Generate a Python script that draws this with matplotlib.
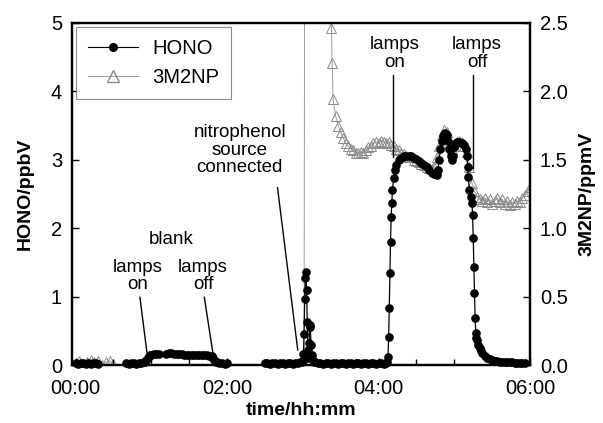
import numpy as np
import matplotlib
matplotlib.use("Agg")
import matplotlib.pyplot as plt
from matplotlib.ticker import FuncFormatter, MultipleLocator
from matplotlib.lines import Line2D

plt.rcParams['font.family'] = ['Liberation Sans', 'DejaVu Sans']

nan = float('nan')

# HONO (ppbV) vs time in minutes, segments separated by NaN
hono_t = [0, 2, 4, 6, 8, 10, 12, 14, 16, 18, nan,
          40, 42, 44, 46, 48, 50, 52, 54, 55, 56, 57, 58, 59, 60, 62, 64, 66, nan,
          72, 74, 76, 78, 80, 82, 84, 86, 88, 90, 92, 94, 96, 98, 100, 102, 104, 106, 108,
          109, 110, 111, 112, 114, 116, 118, 120, nan,
          150, 152, 154, 156, 158, 160, 162, 164, 166, 168, 170, 172, 174, 176, 178,
          179, 180, 180.5, 181, 181.5, 182, 182.5, 183, 183.5, 184, 184.5, 185, 185.5,
          186, 186.5, 187, 188, 189, 190,
          192, 194, 196, 198, 200, 202, 204, 206, 208, 210, 212, 214, 216, 218, 220,
          222, 224, 226, 228, 230, 232, 234, 236, 238, 240, 242, 244, 246,
          247, 247.5, 248, 248.5, 249, 249.5, 250, 250.5, 251, 252, 253, 254, 256, 258,
          260, 262, 264, 266, 268, 270, 272, 274, 276, 278, 280, 282, 284, 286, 287, 288,
          289, 290, 291, 292, 293, 294, 295, 296, 297, 298, 299, 300, 301, 302, 304, 306,
          308, 309, 310, 310.5, 311, 312, 313, 314, 314.5, 315, 315.5, 316, 316.5, 317,
          317.5, 318, 319, 320, 321, 322, 324, 326, 328, 330, 332, 334, 336,
          338, 340, 342, 344, 346, 348, 350, 352, 354, 356]
hono_v = [0.03, 0.02, 0.03, 0.03, 0.02, 0.03, 0.02, 0.03, 0.03, 0.02, nan,
          0.03, 0.02, 0.03, 0.03, 0.02, 0.03, 0.03, 0.04, 0.05, 0.08, 0.11, 0.13, 0.14,
          0.15, 0.16, 0.16, 0.16, nan,
          0.16, 0.17, 0.17, 0.16, 0.16, 0.16, 0.16, 0.15, 0.15, 0.15, 0.15, 0.15, 0.14,
          0.14, 0.14, 0.14, 0.14, 0.13, 0.13,
          0.11, 0.08, 0.05, 0.04, 0.03, 0.03, 0.02, 0.03, nan,
          0.03, 0.03, 0.02, 0.03, 0.03, 0.02, 0.03, 0.03, 0.02, 0.03, 0.03, 0.02, 0.03,
          0.03, 0.04,
          0.04, 0.06, 0.16, 0.45, 0.96, 1.27, 1.36, 1.10, 0.63, 0.22, 0.10, 0.32, 0.58,
          0.55, 0.30, 0.15, 0.07, 0.05, 0.04,
          0.03, 0.03, 0.02, 0.03, 0.03, 0.02, 0.03, 0.03, 0.02, 0.03, 0.03, 0.02, 0.03,
          0.03, 0.02, 0.03, 0.03, 0.02, 0.03, 0.03, 0.02, 0.03, 0.03, 0.02, 0.03, 0.03,
          0.02, 0.03,
          0.05, 0.12, 0.41, 0.83, 1.34, 1.80, 2.16, 2.37, 2.56, 2.73, 2.85, 2.92, 3.00,
          3.03, 3.05, 3.06, 3.06, 3.05, 3.03, 3.01, 2.98, 2.95, 2.92, 2.89, 2.85, 2.81,
          2.79, 2.78, 2.85, 3.00, 3.15, 3.27, 3.34, 3.38, 3.39, 3.36, 3.28, 3.16, 3.05,
          3.00, 3.06, 3.18, 3.24, 3.26, 3.26, 3.25, 3.22, 3.15, 3.05, 2.90, 2.75, 2.56,
          2.45, 2.37, 2.19, 1.86, 1.43, 1.05, 0.69, 0.47, 0.40, 0.37, 0.30, 0.25, 0.21,
          0.17, 0.13, 0.11, 0.09, 0.07, 0.06, 0.06, 0.05,
          0.05, 0.04, 0.04, 0.04, 0.04, 0.03, 0.03, 0.03, 0.03, 0.03]

# 3M2NP (ppmV) vs time in minutes; values above 2.5 run off the top of the plot
np3_t = [0, 3, 6, 9, 12, 15, 18, 21, 24, 27, 30, nan,
         181, 181.8, 202, 202.7, 203.2, 204, 206, 208, 210, 212, 214, 216, 218, 220,
         222, 224, 226, 228, 230, 232, 234, 236, 238, 240, 242, 244, 246, 248, 250,
         252, 254, 256, 258, 260, 262, 264, 266, 268, 270, 272, 274, 276, 278, 280,
         282, 284, 286, 288, 290, 292, 294, 296, 298, 300, 302, 304, 306, 308, 310,
         312, 314, 316, 318, 320, 322, 324, 326, 328, 330, 332, 334, 336, 338, 340,
         342, 344, 346, 348, 350, 352, 354, 356, 358, 360]
np3_v = [0.01, 0.03, 0.00, 0.02, 0.04, 0.02, 0.03, 0.00, 0.02, 0.03, 0.01, nan,
         0.00, 5.00, 2.70, 2.46, 2.21, 1.94, 1.82, 1.75, 1.70, 1.66, 1.62, 1.60, 1.58,
         1.57, 1.55, 1.55, 1.56, 1.55, 1.57, 1.59, 1.60, 1.62, 1.63, 1.62, 1.64, 1.63,
         1.62, 1.63, 1.61, 1.60, 1.58, 1.57, 1.55, 1.54, 1.53, 1.52, 1.52, 1.50, 1.49,
         1.48, 1.47, 1.46, 1.45, 1.44, 1.43, 1.45, 1.52, 1.60, 1.68, 1.72, 1.70, 1.62,
         1.58, 1.60, 1.63, 1.64, 1.63, 1.60, 1.56, 1.45, 1.33, 1.27, 1.23, 1.21, 1.20,
         1.22, 1.19, 1.21, 1.18, 1.20, 1.22, 1.19, 1.21, 1.18, 1.20, 1.17, 1.19, 1.18,
         1.20, 1.19, 1.22, 1.24, 1.27, 1.30]

x_ticks = [0, 120, 240, 360]
hono_ticks = [0, 1, 2, 3, 4, 5]
np3_ticks = [0.0, 0.5, 1.0, 1.5, 2.0, 2.5]

fig = plt.figure(figsize=(6.03, 4.23), dpi=100)
ax = fig.add_axes([0.119, 0.137, 0.760, 0.809])
ax2 = ax.twinx()
ax.set_zorder(ax2.get_zorder() + 1)
ax.patch.set_visible(False)

# 3M2NP: grey line, open triangles (no marker at the start of the jump)
ax2.plot(np3_t, np3_v, color='#9a9a9a', lw=0.7, zorder=2)
mask = [i for i in range(len(np3_t)) if np3_t[i] != 181]
ax2.plot([np3_t[i] for i in mask], [np3_v[i] for i in mask], ls='none',
         marker='^', ms=7.5, mfc='none', mec='#8a8a8a', mew=0.7, zorder=3)

ax.plot(hono_t, hono_v, color='black', lw=0.9, marker='o', ms=5.2,
        mfc='black', mec='black', clip_on=False, zorder=4)

ax.set_xlim(-3, 360)
ax.set_ylim(0, 5)
ax2.set_ylim(0, 2.5)

ax.set_xticks(x_ticks)
ax.xaxis.set_minor_locator(MultipleLocator(30))
ax.xaxis.set_major_formatter(FuncFormatter(lambda v, p: "%02d:%02d" % (int(v) // 60, int(v) % 60)))
ax.set_yticks(hono_ticks)
ax2.set_yticks(np3_ticks)
ax2.yaxis.set_major_formatter(FuncFormatter(lambda v, p: "%.1f" % v))

for a in (ax, ax2):
    for s in a.spines.values():
        s.set_linewidth(1.6)
        s.set_color('black')
ax.tick_params(axis='x', which='major', direction='in', length=5, width=1, pad=10, labelsize=14.5)
ax.tick_params(axis='x', which='minor', direction='in', length=4, width=1)
ax.tick_params(axis='y', direction='in', length=5, width=1, pad=7, labelsize=14.5)
ax2.tick_params(axis='y', direction='in', length=5, width=1, pad=7, labelsize=14.5)

ax.set_xlabel('time/hh:mm', fontsize=14, fontweight='bold', labelpad=3)
ax.set_ylabel('HONO/ppbV', fontsize=14, fontweight='bold', labelpad=12)
ax2.set_ylabel('3M2NP/ppmV', fontsize=14, fontweight='bold', labelpad=8)

# annotations (text centre, line start, line end) in HONO data coordinates
tfs = 13.5
ax.text(76, 1.83, 'blank', ha='center', va='center', fontsize=tfs)
notes = [
    ('lamps\non', (49, 1.30), (51, 0.99), (56.5, 0.19)),
    ('lamps\noff', (101, 1.30), (102, 0.99), (109, 0.15)),
    ('nitrophenol\nsource\nconnected', (130, 3.14), (160, 2.59), (176, 0.22)),
    ('lamps\non', (253, 4.55), (251.5, 4.24), (251.5, 3.04)),
    ('lamps\noff', (318, 4.55), (314.5, 4.24), (314.5, 2.88)),
]
for txt, tpos, p0, p1 in notes:
    ax.text(tpos[0], tpos[1], txt, ha='center', va='center', fontsize=tfs,
            linespacing=1.05)
    ax.plot([p0[0], p1[0]], [p0[1], p1[1]], color='black', lw=1.0, zorder=5)

handles = [
    Line2D([], [], color='black', lw=0.8, marker='o', ms=5.5, mfc='black'),
    Line2D([], [], color='#9a9a9a', lw=0.7, marker='^', ms=9, mfc='none', mec='#8a8a8a'),
]
leg = ax.legend(handles, ['HONO', '3M2NP'], loc='upper left', fontsize=14.5,
                frameon=True, fancybox=False, edgecolor='#707070',
                borderaxespad=0.2, handlelength=2.5, handletextpad=0.7,
                borderpad=0.6, labelspacing=0.5)
leg.get_frame().set_linewidth(0.8)

fig.savefig('out.png', dpi=100)
